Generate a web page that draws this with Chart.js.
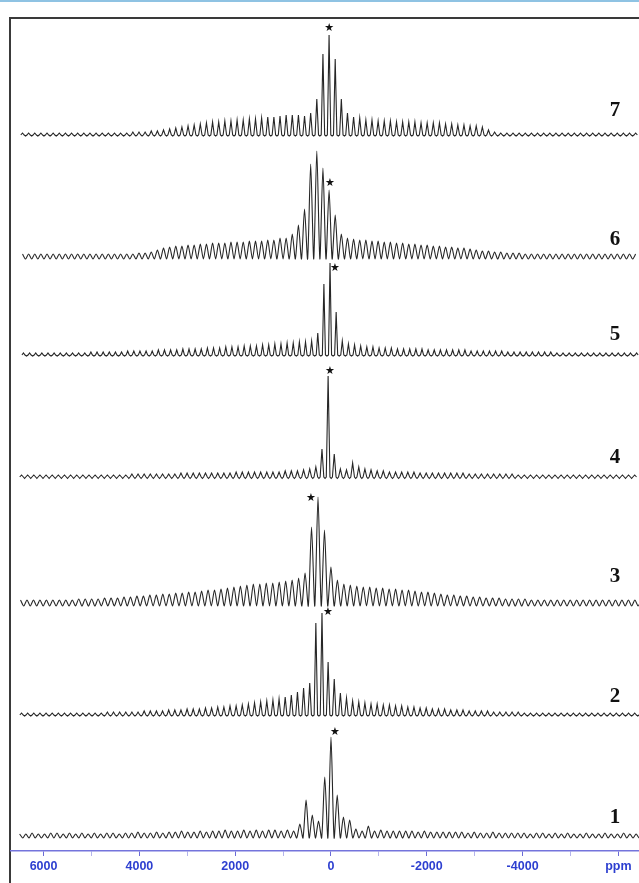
<!DOCTYPE html>
<html>
<head>
<meta charset="utf-8">
<script src="https://cdn.jsdelivr.net/npm/chart.js@4.4.1/dist/chart.umd.min.js"></script>
<style>
  body { margin: 0; width: 639px; height: 883px; overflow: hidden; background: #fff; position: relative; }
  #topline { position: absolute; left: 0; top: 0; width: 639px; height: 2px; background: #8fc3e3; }
  #frame { position: absolute; left: 9px; top: 17px; width: 700px; height: 900px; border: 2px solid #3a3a3a; }
  #spec { position: absolute; left: 0; top: 0; }
</style>
</head>
<body>
<div id="topline"></div>
<div id="frame"></div>
<canvas id="spec" width="639" height="883"></canvas>
<script>
// spectra 1..7 (index 0 = bottom trace "1")
const traceNames = ['1', '2', '3', '4', '5', '6', '7'];
const centerPpm = [0, 188, 271, 60, 20, 40, 40];
const spacingPpm = [130, 128, 135, 128, 128, 128, 128];
const centerHeight = [99, 102, 105, 101, 92, 66, 100];

// sideband heights, going outward from the centre band
// left = higher ppm, right = lower ppm
const left1 = [59,15,21,36,12,5,6,5,6,6, 5,6,5,6,5,5,6,5,5,4, 5,4,4,5,4,4,3,4,3,3, 4,3,3,2,3,3,2,3,2,3, 2,3,2,3,3,2,2,3,2,2];
const right1 = [41,19,16,7,5,10,5,6,5,5, 5,5,5,4,5,4,4,4,4,4, 4,3,4,3,3,4,3,3,3,3, 3,2,3,3,2,3,2,3,2,2, 3,2,2,3,2,2,3,2,2,2];
const left2 = [92,32,27,23,20,18,16,15,14,13, 12,11,10,9,9,8,8,7,7,6, 6,6,5,5,5,4,4,4,4,3, 3,3,3,3,3,2,2,2,2,2, 2,2,2,2,2,2,2,2,2];
const right2 = [53,36,22,17,14,13,12,11,11,10, 10,9,9,8,8,7,7,6,6,6, 5,5,5,4,4,4,4,3,3,3, 3,3,2,2,2,2,2,2,2,2, 2,2,2,2,2,2,2,2,2,2, 2,2];
const left3 = [75,29,24,22,21,20,19,19,18,18, 17,16,15,14,13,12,12,11,10,10, 9,9,8,8,7,7,6,6,5,5, 4,4,4,3,3,3,3,2,2,2, 2,2,2,2,2,2];
const right3 = [72,35,22,18,17,16,15,15,14,14, 13,13,12,12,11,10,10,9,8,7, 7,6,6,5,5,4,4,4,3,3, 3,3,2,2,2,2,2,2,2,2, 2,2,2,2,2,2,2,2,2,2];
const left4 = [28,10,8,7,6,6,6,5,5,5, 5,5,5,5,5,4,4,4,4,4, 4,4,4,4,3,3,3,3,3,3, 3,3,2,2,2,2,2,2,2,2, 2,2,2,2,2,2,2,2,2,2];
const right4 = [23,8,7,14,10,8,7,6,6,5, 5,5,5,5,4,4,4,4,4,4, 4,4,3,3,3,3,3,3,3,3, 2,2,2,2,2,2,2,2,2,2, 2,2,2,2,2,2,2,2,2,2];
const left5 = [71,22,14,13,13,12,12,11,11,10, 10,9,9,9,8,8,8,7,7,7, 6,6,6,6,5,5,5,5,4,4, 4,4,4,3,3,3,3,3,3,2, 2,2,2,2,2,2,2,2,2,2];
const right5 = [43,14,11,10,9,8,8,7,7,7, 6,6,6,6,6,5,5,5,5,5, 5,5,4,4,4,4,4,4,3,3, 3,3,3,3,3,3,2,2,2,2, 2,2,2,2,2,2,2,2,2,2];
const left6 = [88,105,92,47,31,22,18,18,16,16, 15,15,15,14,14,14,13,13,13,12, 12,11,11,10,10,9,8,6,4,3, 3,2,2,2,2,2,2,2,2,2, 2,2,2,2,2,2,2,2,2,2];
const right6 = [41,22,18,17,16,16,15,15,14,14, 13,13,12,12,11,11,10,10,9,9, 8,8,7,6,5,5,4,4,3,3, 3,2,2,2,2,2,2,2,2,2, 2,2,2,2,2,2,2,2,2,2];
const left7 = [81,36,22,19,20,20,20,19,18,18, 17,16,16,15,15,14,14,13,13,12, 11,10,9,8,7,6,5,4,4,3, 3,3,2,2,2,2,2,2,2,2, 2,2,2,2,2,2,2,2,2,2];
const right7 = [76,36,22,18,17,15,15,14,14,14, 13,13,13,13,12,12,12,12,11,11, 10,10,9,9,8,5,3,2,2,2, 2,2,2,2,2,2,2,2,2,2, 2,2,2,2,2,2,2,2,2,2];
const leftWings = [left1, left2, left3, left4, left5, left6, left7];
const rightWings = [right1, right2, right3, right4, right5, right6, right7];

// asterisk marks (ppm, height above baseline)
const starPpm = [-84, 63, 418, 21, -84, 21, 40];
const starLevel = [104, 103, 104, 106, 87, 73, 107];

// x axis ticks (ppm) and their labels
const tickValues = [6000, 5000, 4000, 3000, 2000, 1000, 0, -1000, -2000, -3000, -4000, -5000, -6000];
const tickLabels = ['6000', '', '4000', '', '2000', '', '0', '', '-2000', '', '-4000', '', 'ppm'];

// layout: baseline of each trace on the stacked y scale, label lift, line shape
const baseOffset = [15, 136, 249, 374, 496, 595, 716];
const labelLift = [18, 18, 25, 19, 20, 16, 24];
const footFrac = [0.5, 0.28, 0.5, 0.3, 0.25, 0.5, 0.28];
const dip = [2, 1, 4, 1.5, 1, 3, 1];

function buildTrace(i) {
    const c = centerPpm[i], s = spacingPpm[i], off = baseOffset[i];
    const peaks = [];
    leftWings[i].forEach((h, k) => peaks.unshift({ x: c + (k + 1) * s, h }));
    peaks.push({ x: c, h: centerHeight[i] });
    rightWings[i].forEach((h, k) => peaks.push({ x: c - (k + 1) * s, h }));

    const pts = [];
    const w = footFrac[i];
    peaks.forEach((p, k) => {
        if (w < 0.5) pts.push({ x: p.x + w * s, y: off });
        pts.push({ x: p.x, y: off + p.h });
        if (w < 0.5) pts.push({ x: p.x - w * s, y: off });
        if (k < peaks.length - 1) pts.push({ x: p.x - s / 2, y: off - dip[i] });
    });
    return pts;
}

const datasets = traceNames.map((name, i) => ({
    label: name,
    data: buildTrace(i),
    borderColor: '#262626',
    borderWidth: 1.1,
    pointRadius: 0,
    tension: footFrac[i] >= 0.5 ? 0.25 : 0,
    fill: false
}));

// numbers on the right and the asterisks
const marksPlugin = {
    id: 'marks',
    afterDatasetsDraw(chart) {
        const { ctx, scales: { x, y } } = chart;
        ctx.save();
        ctx.fillStyle = '#111';
        ctx.textAlign = 'center';
        ctx.textBaseline = 'middle';
        ctx.font = 'bold 21px "Liberation Serif", "Times New Roman", serif';
        traceNames.forEach((name, i) => {
            ctx.fillText(name, x.getPixelForValue(-5930), y.getPixelForValue(baseOffset[i] + labelLift[i]));
        });
        ctx.font = '11px "DejaVu Sans", sans-serif';
        traceNames.forEach((name, i) => {
            ctx.fillText('\u2605', x.getPixelForValue(starPpm[i]), y.getPixelForValue(baseOffset[i] + starLevel[i]));
        });
        ctx.restore();
    }
};

const isMajor = (v) => tickLabels[tickValues.indexOf(v)] !== '';

new Chart(document.getElementById('spec'), {
    type: 'line',
    data: { datasets },
    options: {
        responsive: false,
        animation: false,
        layout: { padding: { left: 11, top: 0, right: 0, bottom: 0 } },
        plugins: { legend: { display: false }, tooltip: { enabled: false } },
        scales: {
            x: {
                type: 'linear',
                reverse: true,
                min: -6430,
                max: 6680,
                afterBuildTicks: (scale) => { scale.ticks = tickValues.map(value => ({ value })); },
                afterFit: (scale) => { scale.height = 32; },
                border: { display: true, color: '#7474dc', width: 1.5 },
                grid: {
                    drawOnChartArea: false,
                    drawTicks: true,
                    tickLength: 5,
                    color: (c) => (c.tick && isMajor(c.tick.value)) ? '#6a6ad6' : '#b4b4ec'
                },
                ticks: {
                    autoSkip: false,
                    maxRotation: 0,
                    padding: 3,
                    color: '#2d3fd0',
                    font: { family: '"Liberation Sans", Arial, sans-serif', size: 12.5, weight: 'bold' },
                    callback: (v) => tickLabels[tickValues.indexOf(v)]
                }
            },
            y: { display: false, min: 0, max: 851 }
        }
    },
    plugins: [marksPlugin]
});
</script>
</body>
</html>
